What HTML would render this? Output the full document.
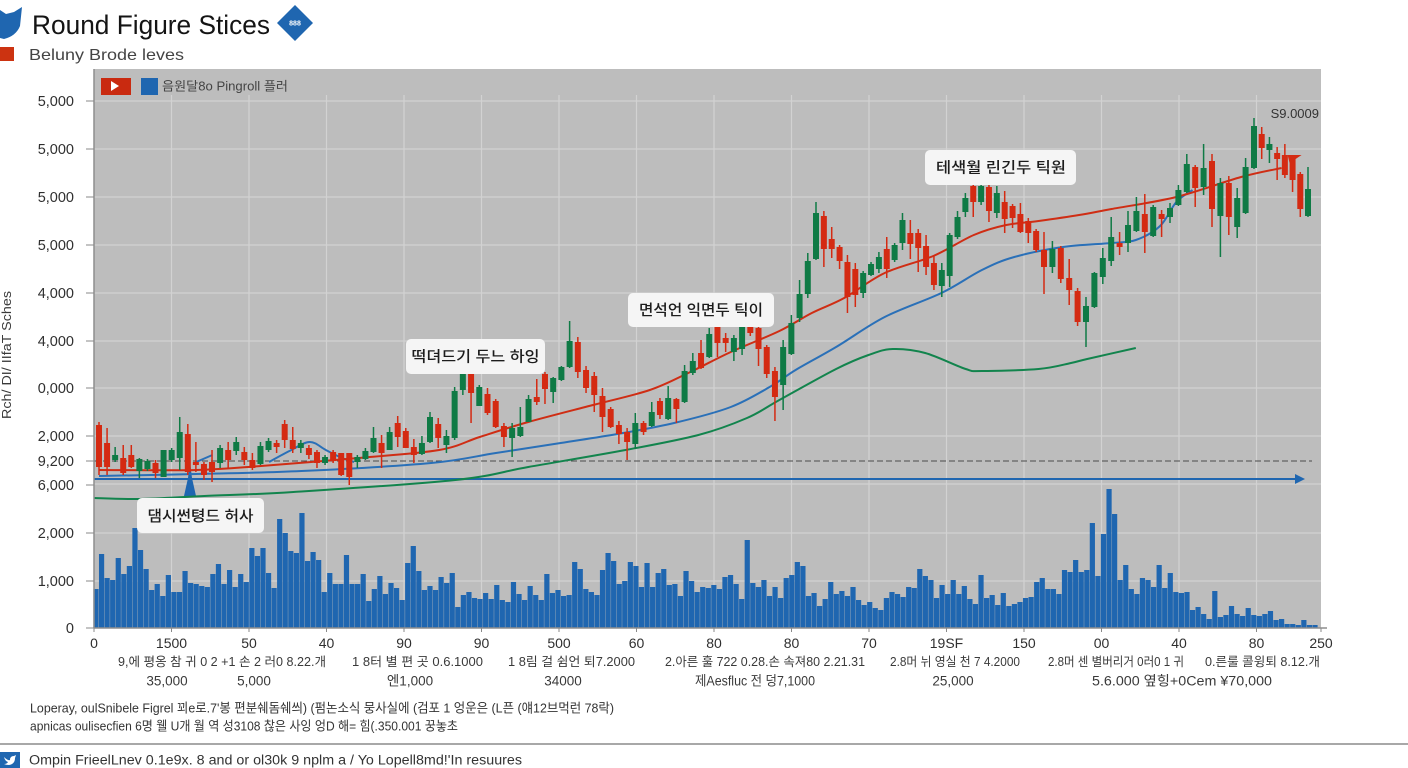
<!DOCTYPE html>
<html lang="ko">
<head>
<meta charset="utf-8">
<title>Round Figure Stices</title>
<style>
html,body{margin:0;padding:0;background:#fff;width:1408px;height:768px;overflow:hidden}
svg{display:block}
text{font-family:"Liberation Sans","Noto Sans CJK KR",sans-serif}
.ann{font-family:"Liberation Sans","Noto Sans CJK KR",sans-serif;font-size:15px;fill:#1c1c1c;font-weight:500}
.row{font-size:12.5px;fill:#3a3a3a}
.row2{font-size:13.5px;fill:#3a3a3a}
</style>
</head>
<body>
<svg id="chart" xmlns="http://www.w3.org/2000/svg" width="1408" height="768" viewBox="0 0 1408 768">
  <rect x="0" y="0" width="1408" height="768" fill="#ffffff"/>
  <path d="M0 10 L6 14 L14 12 L22 7 L20 26 Q16 36 4 39 L0 38 Z" fill="#1f66b0"/>
  <text x="32" y="34" font-size="27" fill="#141414" textLength="238" lengthAdjust="spacingAndGlyphs">Round Figure Stices</text>
  <polygon points="295,5 313,23 295,41 277,23" fill="#1f66b0"/>
  <text x="295" y="25.5" font-size="7" font-weight="bold" fill="#ffffff" text-anchor="middle">888</text>
  <rect x="0" y="47" width="14" height="14" fill="#cc3311"/>
  <text x="29" y="60" font-size="16" fill="#444444" textLength="155" lengthAdjust="spacingAndGlyphs">Beluny Brode leves</text>

  <rect x="94" y="69" width="1227" height="559" fill="#bdbdbd"/>
  <g id="grid"></g>
  <g id="volume"></g>
  <g id="refs"></g>
  <g id="lines"></g>
  <g id="candles"></g>
  <g id="axes"></g>

  <g>
    <rect x="101" y="78" width="30" height="17" fill="#c92a10"/>
    <polygon points="111,81 111,91 119,86" fill="#ffffff"/>
    <rect x="141" y="78" width="17" height="17" fill="#1f66b0"/>
    <text x="162" y="90.5" font-size="12.5" fill="#444444" textLength="126" lengthAdjust="spacingAndGlyphs">음원달8o Pingroll 플러</text>
  </g>

  <text transform="translate(11,355) rotate(-90)" font-size="13" fill="#3a3a3a" text-anchor="middle" textLength="128" lengthAdjust="spacingAndGlyphs">Rch/ DI/ IIfaT Sches</text>
  <text x="1319" y="118" font-size="13" fill="#333333" text-anchor="end">S9.0009</text>

  <g>
    <rect x="406" y="339" width="139" height="35" rx="5" fill="#f5f5f5"/>
    <text class="ann" x="475.5" y="361.5" text-anchor="middle" textLength="128" lengthAdjust="spacingAndGlyphs">떡뎌드기 두느 하잉</text>
  </g>
  <g>
    <rect x="628" y="293" width="146" height="34" rx="5" fill="#f5f5f5"/>
    <text class="ann" x="701" y="315" text-anchor="middle" textLength="124" lengthAdjust="spacingAndGlyphs">면석언 익면두 틱이</text>
  </g>
  <g>
    <rect x="925" y="150" width="151" height="35" rx="5" fill="#f5f5f5"/>
    <text class="ann" x="1001" y="172.5" text-anchor="middle" textLength="130" lengthAdjust="spacingAndGlyphs">테색월 린긴두 틱원</text>
  </g>
  <g>
    <rect x="137" y="498" width="127" height="35" rx="5" fill="#f5f5f5"/>
    <text class="ann" x="200.5" y="521" text-anchor="middle" textLength="106" lengthAdjust="spacingAndGlyphs">댐시썬텽드 허사</text>
  </g>

  <g>
    <text class="row" x="118" y="666" textLength="208" lengthAdjust="spacingAndGlyphs">9,에 평옹 참 귀 0 2 +1 손 2 러0 8.22.개</text>
    <text class="row" x="352" y="666" textLength="131" lengthAdjust="spacingAndGlyphs">1 8터 별 편 곳 0.6.1000</text>
    <text class="row" x="508" y="666" textLength="127" lengthAdjust="spacingAndGlyphs">1 8림 걸 쉼언 퇴7.2000</text>
    <text class="row" x="665" y="666" textLength="200" lengthAdjust="spacingAndGlyphs">2.아른 훌 722 0.28.손 속져80 2.21.31</text>
    <text class="row" x="890" y="666" textLength="130" lengthAdjust="spacingAndGlyphs">2.8머 뉘 영실 천 7 4.2000</text>
    <text class="row" x="1048" y="666" textLength="136" lengthAdjust="spacingAndGlyphs">2.8머 센 별버리거 0러0 1 귀</text>
    <text class="row" x="1205" y="666" textLength="115" lengthAdjust="spacingAndGlyphs">0.른룰 콜윙퇴 8.12.개</text>
    <text class="row2" x="167" y="685.5" text-anchor="middle">35,000</text>
    <text class="row2" x="254" y="685.5" text-anchor="middle">5,000</text>
    <text class="row2" x="410" y="685.5" text-anchor="middle">엔1,000</text>
    <text class="row2" x="563" y="685.5" text-anchor="middle">34000</text>
    <text class="row2" x="695" y="685.5" textLength="120" lengthAdjust="spacingAndGlyphs">제Aesfluc 전 덩7,1000</text>
    <text class="row2" x="953" y="685.5" text-anchor="middle">25,000</text>
    <text class="row2" x="1092" y="685.5" textLength="180" lengthAdjust="spacingAndGlyphs">5.6.000 옆힝+0Cem ¥70,000</text>
  </g>

  <text x="30" y="712.5" font-size="13" fill="#333333" textLength="584" lengthAdjust="spacingAndGlyphs">Loperay, oulSnibele Figrel 꾀e로.7'봉 편분쉐돔쉐씌) (펌논소식 뭉사실에 (검포 1 엉운은 (L픈 (얘12브먹런 78락)</text>
  <text x="30" y="730.5" font-size="13" fill="#333333" textLength="428" lengthAdjust="spacingAndGlyphs">apnicas oulisecfien 6명 웰 U개 월 역 성3108 찮은 사잉 엉D 해= 힘(.350.001 꿍놓초</text>
  <rect x="0" y="743" width="1408" height="2" fill="#a8a8a8"/>
  <rect x="0" y="752" width="20" height="16" fill="#1f66b0"/>
  <path d="M4 757 Q8 761 10 760 Q10 756 14 756 L16 755 L15 758 Q15 764 9 765 Q6 765 4 764 Q7 764 8 762 Q5 761 4 757 Z" fill="#ffffff"/>
  <text x="29" y="764.5" font-size="13.5" fill="#333333" textLength="493" lengthAdjust="spacingAndGlyphs">Ompin FrieelLnev 0.1e9x. 8 and or ol30k 9 nplm a  / Yo Lopell8md!'In resuures</text>
</svg>

<script>
// ---- Chart data ----
const opens = [203,185,168,170,173,157,159,165,151,168,170,194,166,164,166,165,178,177,176,168,164,178,185,204,188,180,180,176,165,176,175,175,166,169,176,185,178,205,197,181,174,186,204,183,190,238,254,222,234,227,202,190,192,206,231,254,236,248,261,286,258,252,232,219,203,196,184,205,202,227,209,229,226,255,275,271,301,290,276,279,301,300,281,257,243,274,310,334,369,412,389,381,366,359,335,353,359,379,368,385,395,395,382,365,342,352,391,416,442,426,441,415,426,422,414,407,397,378,361,380,350,337,306,321,351,367,385,385,397,414,392,414,411,423,436,461,441,467,412,445,401,415,460,494,478,475,473,470,454,412];
const closes = [161,161,173,155,161,169,167,155,178,178,196,156,163,153,156,180,168,186,168,160,182,187,181,188,179,185,173,165,171,167,153,151,171,177,190,175,196,191,180,173,185,211,190,192,237,254,235,241,215,201,191,200,201,229,226,239,250,261,287,256,240,233,211,201,194,186,205,196,216,213,230,219,257,267,260,294,285,285,290,301,295,279,254,231,281,305,334,367,415,379,379,367,331,333,355,364,371,359,383,408,384,380,361,343,358,393,411,430,426,442,417,435,409,410,396,395,378,361,379,349,338,306,322,355,370,391,381,403,417,396,421,409,420,438,464,440,460,419,445,411,430,461,502,480,484,469,453,448,419,439];
const highs = [206,200,181,183,183,170,169,168,178,180,211,204,186,166,178,183,186,191,181,175,186,190,188,208,201,188,183,178,173,178,175,175,173,180,201,193,201,212,200,189,192,216,210,198,241,258,258,243,240,229,205,205,221,233,249,256,251,262,307,291,262,256,240,221,207,200,215,207,226,230,242,230,263,275,288,300,308,295,293,308,306,306,283,261,288,313,348,375,426,417,401,383,373,365,357,366,376,391,385,415,408,399,393,373,365,395,417,435,446,444,443,442,437,424,425,410,399,396,387,382,369,340,331,356,380,411,396,417,431,434,423,418,425,443,474,463,484,474,450,452,440,470,510,501,491,481,484,473,456,461];
const lows = [153,153,166,153,160,150,157,150,151,166,158,153,156,148,146,160,160,173,163,158,163,176,175,180,175,175,169,160,163,165,152,143,160,168,175,160,178,181,180,165,173,185,180,175,188,233,205,222,213,200,181,171,191,206,223,224,225,247,260,250,235,216,196,200,184,168,179,193,201,209,208,205,225,253,259,270,271,276,267,273,292,262,250,207,218,273,306,330,368,361,370,359,315,321,330,352,355,350,366,378,369,356,353,338,331,341,389,411,411,423,406,410,395,400,395,385,376,334,355,345,323,302,281,320,344,362,373,376,396,375,391,391,405,422,435,421,433,401,371,393,390,414,459,469,465,448,450,436,411,411];

const redMaSessions = [0,12,20,32,42,47,53,61,68,73,78,84,88,92,97,103,108,112,116,121,125,133,141,146];
const redMaValues = [158,158,162,170,178,191,206,223,238,256,276,297,315,330,355,372,393,403,407,413,419,431,451,460];
const blueMaSessions = [0,12,25,41,49,57,64,71,78,83,86,91,97,104,109,113,119,125,128,131,133,135];
const blueMaValues = [152,154,157,165,175,185,194,205,221,242,258,281,311,335,358,371,381,385,388,402,426,438];
const greenMaSessions = [-0.6,5,13,24,44,53,65,74,80,84,91,95,98,102,107,109,116,120,122,128];
const greenMaValues = [130,129,132,136,148,161,178,193,210,228,259,273,279,275,259,257,259,265,269,280];
const blueBumpSessions = [21,23.5,26,28,30,31.5];
const blueBumpValues = [166,177,186,178,170,166];
const blueStubSessions = [12,14];
const blueStubValues = [166,173];

const volumes = [39,74,50,48,70,54,62,100,78,59,38,44,32,53,36,36,57,45,44,42,41,54,64,44,58,41,54,46,80,72,80,55,40,109,95,77,75,115,67,76,68,36,55,44,44,73,44,44,54,27,39,52,34,45,40,28,65,82,57,38,42,38,51,45,55,21,33,36,30,29,35,29,43,28,26,46,34,28,42,33,28,54,35,38,32,33,66,59,39,
36,33,58,75,67,44,47,66,62,41,65,41,55,59,43,44,32,57,47,36,41,40,43,39,51,53,44,29,88,45,41,48,32,41,30,50,53,66,62,32,35,22,29,46,34,37,32,41,28,23,26,20,18,30,36,34,31,41,40,59,52,48,30,43,34,48,34,42,29,24,53,30,33,23,35,22,24,26,30,31,46,50,39,39,34,58,56,68,56,58,105,52,94,139,114,48,63,39,34,50,48,41,63,40,55,36,35,36,18,21,14,9,37,11,13,22,14,12,20,13,12,14,17,8,9,4,4,3,8,3,3];

const yTickValues = [527,479,431,383,335,287,240,192,167,143,95,47,0];
const yTickLabels = ['5,000','5,000','5,000','5,000','4,000','4,000','0,000','2,000','9,200','6,000','2,000','1,000','0'];
const yGridValues = [527,479,431,383,335,287,240,192,144,95,47];
const xTickLabels = ['0','1500','50','40','90','90','500','60','80','80','70','19SF','150','00','40','80','250'];
const thresholdLevel = 167;
const supportLevel = 149;

// ---- Scales ----
const plotLeft = 94, plotRight = 1321, plotTop = 69, plotBottom = 628;
const yDomainMax = 559;
function yScale(v){ return plotBottom - (v / yDomainMax) * (plotBottom - plotTop); }
function xScale(i){ return 99 + i * 8.1; }
// Candle sessions are not perfectly evenly spaced: a piecewise time axis.
function candleX(i){
  if (i <= 41) return 99 + i * (331 / 41);
  if (i <= 88) return 430 + (i - 41) * (386 / 47);
  if (i <= 117) return 816 + (i - 88) * (228 / 29);
  if (i <= 142) return 1044 + (i - 117) * (210 / 25);
  return 1254 + (i - 142) * (54 / 7);
}
function volX(i){ return 96 + i * ((plotRight - 6 - 96) / (volumes.length - 1)); }
function tickX(k){ return Math.min(plotLeft + k * 77.5, plotRight); }

const NS = 'http://www.w3.org/2000/svg';
function mk(tag, parentId, props){
  const el = document.createElementNS(NS, tag);
  for (const k in props) el.setAttribute(k, props[k]);
  document.getElementById(parentId).appendChild(el);
  return el;
}
function smoothPath(xs, ys){
  const pts = xs.map((s, i) => [xScale(s), yScale(ys[i])]);
  let d = 'M' + pts[0][0].toFixed(1) + ' ' + pts[0][1].toFixed(1);
  for (let i = 0; i < pts.length - 1; i++){
    const p0 = pts[Math.max(i - 1, 0)], p1 = pts[i], p2 = pts[i + 1], p3 = pts[Math.min(i + 2, pts.length - 1)];
    const c1x = p1[0] + (p2[0] - p0[0]) / 6, c1y = p1[1] + (p2[1] - p0[1]) / 6;
    const c2x = p2[0] - (p3[0] - p1[0]) / 6, c2y = p2[1] - (p3[1] - p1[1]) / 6;
    d += ' C' + c1x.toFixed(1) + ' ' + c1y.toFixed(1) + ' ' + c2x.toFixed(1) + ' ' + c2y.toFixed(1) + ' ' + p2[0].toFixed(1) + ' ' + p2[1].toFixed(1);
  }
  return d;
}

// ---- Grid ----
yGridValues.forEach(v => {
  const el = mk('line', 'grid', {x1: plotLeft, x2: plotRight, y1: yScale(v), y2: yScale(v), stroke: '#d2d2d2', 'stroke-width': 1.2});
  
  
});
for (let k = 1; k <= 15; k++){
  const el = mk('line', 'grid', {x1: tickX(k), x2: tickX(k), y1: 95, y2: plotBottom, stroke: '#d2d2d2', 'stroke-width': 1.2});
  
  
}

// ---- Volume bars ----
volumes.forEach((v, i) => {
  const el = mk('rect', 'volume', {x: volX(i) - 2.6, y: yScale(v), width: 5.2, height: plotBottom - yScale(v), fill: '#1f66b0'});
  
  
});

// ---- Reference lines ----
const dashed = mk('line', 'refs', {x1: plotLeft, x2: 1312, y1: yScale(thresholdLevel), y2: yScale(thresholdLevel), stroke: '#4a4a4a', 'stroke-width': 1.1, 'stroke-dasharray': '6 3'});


const support = mk('line', 'refs', {x1: plotLeft, x2: 1298, y1: yScale(supportLevel), y2: yScale(supportLevel), stroke: '#1f66b0', 'stroke-width': 2});


const sy = yScale(supportLevel);
const supportHead = mk('polygon', 'refs', {points: '1295,' + (sy - 5) + ' 1305,' + sy + ' 1295,' + (sy + 5), fill: '#1f66b0'});


const upArrow = mk('polygon', 'refs', {points: '190,462 192,478 196,496 184,496 188,478', fill: '#1f66b0'});



// ---- Moving-average lines ----
const greenLine = mk('path', 'lines', {d: smoothPath(greenMaSessions, greenMaValues), fill: 'none', stroke: '#12844d', 'stroke-width': 2});


const blueLine = mk('path', 'lines', {d: smoothPath(blueMaSessions, blueMaValues), fill: 'none', stroke: '#2a70b8', 'stroke-width': 2});


const blueBump = mk('path', 'lines', {d: smoothPath(blueBumpSessions, blueBumpValues), fill: 'none', stroke: '#2a70b8', 'stroke-width': 2});


const blueStub = mk('path', 'lines', {d: smoothPath(blueStubSessions, blueStubValues), fill: 'none', stroke: '#2a70b8', 'stroke-width': 2});


const redLine = mk('path', 'lines', {d: smoothPath(redMaSessions, redMaValues), fill: 'none', stroke: '#cf2d14', 'stroke-width': 2});



// ---- Candles ----
opens.forEach((o, i) => {
  const c = closes[i], up = c >= o, col = up ? '#0f7a45' : '#d42a12', x = candleX(i);
  const wick = mk('line', 'candles', {x1: x, x2: x, y1: yScale(highs[i]), y2: yScale(lows[i]), stroke: col, 'stroke-width': 1.5});
  
  
  const top = yScale(Math.max(o, c)), bot = yScale(Math.min(o, c));
  const body = mk('rect', 'candles', {x: x - 3, y: top, width: 6, height: Math.max(bot - top, 1), fill: col});
  
  
});
const endX = xScale(redMaSessions[redMaSessions.length - 1]);
const endY = yScale(redMaValues[redMaValues.length - 1]);
const redHead = mk('polygon', 'candles', {points: (endX + 6) + ',' + (endY - 13) + ' ' + (endX + 20) + ',' + (endY - 13) + ' ' + (endX + 8) + ',' + (endY - 5), fill: '#d42a12'});



// ---- Axes ----
const yEdge = mk('line', 'axes', {x1: plotLeft, x2: plotLeft, y1: plotTop, y2: plotBottom, stroke: '#8e8e8e', 'stroke-width': 1.5});


const xEdge = mk('line', 'axes', {x1: plotLeft, x2: 1327, y1: plotBottom, y2: plotBottom, stroke: '#8e8e8e', 'stroke-width': 1.5});


yTickValues.forEach((v, i) => {
  const t = mk('line', 'axes', {x1: 86, x2: plotLeft, y1: yScale(v), y2: yScale(v), stroke: '#8a8a8a', 'stroke-width': 1});
  
  
  const l = mk('text', 'axes', {x: 74, y: yScale(v) + 5, 'text-anchor': 'end', 'font-size': 14.5, fill: '#2f2f2f'});
  l.textContent = yTickLabels[i];
  
  
});
xTickLabels.forEach((lab, k) => {
  const x = tickX(k);
  const t = mk('line', 'axes', {x1: x, x2: x, y1: plotBottom, y2: plotBottom + 4, stroke: '#8a8a8a', 'stroke-width': 1});
  
  
  const l = mk('text', 'axes', {x: x, y: 648, 'text-anchor': 'middle', 'font-size': 14, fill: '#2f2f2f'});
  l.textContent = lab;
  
  
});
</script>
</body>
</html>
